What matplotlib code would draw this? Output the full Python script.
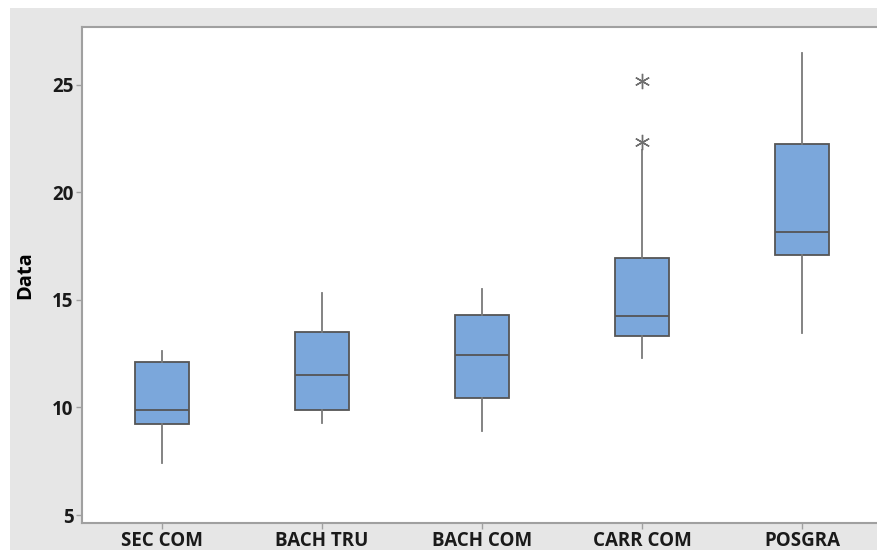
import matplotlib
matplotlib.use("Agg")
import matplotlib.pyplot as plt

categorias = ['SEC COM', 'BACH TRU', 'BACH COM', 'CARR COM', 'POSGRA']
q1 = [9.22, 9.88, 10.44, 13.32, 17.08]
mediana = [9.88, 11.51, 12.44, 14.25, 18.17]
q3 = [12.11, 13.5, 14.3, 16.93, 22.24]
bigote_inf = [7.41, 9.26, 8.9, 12.3, 13.46]
bigote_sup = [12.62, 15.32, 15.5, 21.95, 26.5]
atipicos = [[], [], [], [22.33, 25.2], []]

plt.rcParams['font.family'] = ['Open Sans', 'DejaVu Sans']

stats = []
for i in range(len(categorias)):
    stats.append({'label': categorias[i], 'q1': q1[i], 'med': mediana[i], 'q3': q3[i],
                  'whislo': bigote_inf[i], 'whishi': bigote_sup[i], 'fliers': atipicos[i]})

fig = plt.figure(figsize=(8.78, 5.5), dpi=100)
fig.patch.set_facecolor('white')
# fondo gris del grafico (la imagen esta recortada arriba e izquierda)
fig.patches.append(plt.Rectangle((10 / 878, 0), 1, 542 / 550, transform=fig.transFigure,
                                 facecolor='#e6e6e6', edgecolor='none', zorder=-10))
ax = fig.add_axes([82 / 878, 27 / 550, 800 / 878, 496 / 550])
ax.set_facecolor('white')

ax.bxp(stats, widths=0.34, patch_artist=True, showcaps=False,
       boxprops=dict(facecolor='#7ba7db', edgecolor='#555555', linewidth=1.3),
       medianprops=dict(color='#555555', linewidth=1.3),
       whiskerprops=dict(color='#7a7a7a', linewidth=1.3),
       flierprops=dict(marker=(6, 2, 0), markersize=11, markeredgecolor='#6f6f6f',
                       markeredgewidth=1.0, linestyle='none'))

ax.set_xlim(0.5, 5.5)
ax.set_ylim(4.63, 27.69)
ax.set_yticks([5, 10, 15, 20, 25])
ax.set_ylabel('Data', fontsize=14.5, fontweight='bold', labelpad=12)

for s in ['top', 'left', 'bottom']:
    ax.spines[s].set_color('#a0a0a0')
    ax.spines[s].set_linewidth(1.5)
ax.spines['right'].set_visible(False)
ax.tick_params(axis='both', color='#a0a0a0', length=4, width=1, labelsize=13.5,
               labelcolor='#1a1a1a', pad=2)
for lbl in ax.get_xticklabels() + ax.get_yticklabels():
    lbl.set_fontweight('bold')

fig.savefig('out.png', dpi=100, facecolor=fig.get_facecolor())
